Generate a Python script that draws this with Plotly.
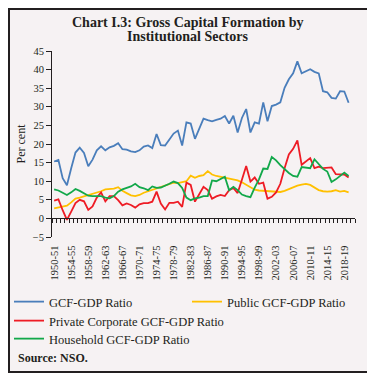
import plotly.graph_objects as go

years = [f"{y}-{str(y + 1)[-2:]}" for y in range(1950, 2021)]  # 71 slots, last one empty

gcf_gdp = [15.3, 15.7, 10.8, 8.9, 13.5, 17.7, 19.0, 17.6, 14.0, 15.8,
           18.3, 19.4, 18.3, 19.1, 19.5, 20.2, 18.6, 18.5, 18.0, 17.8,
           18.3, 19.3, 19.6, 18.9, 22.7, 19.7, 19.6, 21.3, 22.8, 23.6,
           19.6, 25.8, 25.5, 21.4, 23.9, 26.8, 26.4, 26.1, 26.5, 26.8,
           27.5, 25.5, 27.6, 23.1, 27.0, 29.4, 23.1, 25.8, 25.5, 31.2,
           26.1, 30.2, 30.6, 31.2, 35.1, 37.4, 39.0, 42.2, 39.0, 39.5,
           40.1, 39.4, 39.0, 34.2, 33.9, 32.4, 32.2, 34.2, 34.1, 31.1]

public_gcf = [2.7, 3.0, 3.2, 3.4, 4.3, 5.3, 5.6, 5.9, 6.2, 6.7,
              7.0, 7.3, 7.8, 7.9, 8.0, 8.4, 7.4, 6.8, 6.2, 6.0,
              6.3, 6.9, 7.3, 7.8, 8.0, 8.6, 8.8, 9.2, 9.6, 9.5,
              9.8, 10.0, 11.5, 10.9, 11.4, 11.6, 12.7, 11.8, 11.4, 11.2,
              11.0, 10.7, 10.5, 10.2, 9.7, 9.0, 8.4, 7.7, 7.5, 7.4,
              7.3, 7.3, 7.2, 7.1, 7.4, 7.9, 8.2, 8.8, 9.1, 9.3,
              9.0, 8.3, 7.6, 7.3, 7.2, 7.3, 7.6, 7.2, 7.4, 7.0]

private_corp = [4.8, 5.1, 2.2, -0.4, 1.8, 4.1, 5.0, 4.6, 2.3, 3.2,
                5.6, 7.0, 4.6, 6.0, 6.0, 4.9, 3.5, 4.0, 3.6, 2.9,
                3.8, 4.1, 4.1, 4.5, 7.2, 4.0, 2.4, 4.2, 4.2, 4.5,
                3.1, 9.6, 9.0, 4.5, 6.5, 8.5, 7.6, 5.3, 5.9, 6.3,
                6.0, 7.6, 8.2, 6.8, 10.4, 14.1, 9.9, 11.0, 9.3, 9.6,
                5.3, 5.8, 7.0, 9.3, 13.5, 17.2, 18.7, 21.0, 14.4, 15.3,
                16.2, 13.5, 13.9, 13.5, 13.6, 13.7, 11.9, 11.9, 11.8, 11.0]

household = [7.8, 7.5, 6.9, 6.3, 7.0, 7.9, 7.4, 6.7, 6.1, 6.0,
             6.0, 6.0, 5.6, 5.4, 6.0, 7.2, 7.8, 8.1, 8.6, 9.3,
             8.4, 8.1, 7.6, 8.6, 8.2, 8.3, 8.7, 9.3, 9.9, 9.5,
             8.2, 5.6, 4.9, 5.4, 5.6, 6.0, 6.0, 10.2, 10.0, 10.5,
             11.2, 7.6, 8.5, 7.6, 6.4, 6.0, 5.7, 8.3, 10.5, 13.4,
             13.3, 16.5, 15.6, 14.3, 13.2, 12.2, 11.4, 11.2, 13.8, 13.7,
             13.5, 15.9, 14.7, 13.3, 12.6, 9.8, 10.5, 11.3, 12.3, 11.4]

tick_labels = years[0:69:4]

series = [
    ("GCF-GDP Ratio", gcf_gdp, "#4A7EBB", "legend"),
    ("Public GCF-GDP Ratio", public_gcf, "#FFC000", "legend2"),
    ("Private Corporate GCF-GDP Ratio", private_corp, "#EE1C25", "legend3"),
    ("Household GCF-GDP Ratio", household, "#12A84A", "legend4"),
]

SERIF = "Liberation Serif"
INK = "#231F20"
W, H = 375, 377
OFF = 8  # page body margin: figure starts 8px into the window

# target positions are given in window pixels; convert to figure coordinates
L, R, T, B = 52 - OFF, 355 - OFF, 51 - OFF, 237 - OFF
def px(xw):
    return (xw - OFF - L) / (R - L)
def py(yw):
    return (B - (yw - OFF)) / (B - T)
def cx(xw):
    return (xw - OFF) / W
def cy(yw):
    return 1 - (yw - OFF) / H

fig = go.Figure()
n = len(gcf_gdp)
for name, vals, color, lg in series:
    fig.add_trace(go.Scatter(
        x=years[:n], y=vals, mode="lines", name=name,
        line=dict(color=color, width=1.8), legend=lg, showlegend=True,
    ))

legend_common = dict(font=dict(family=SERIF, size=12.5, color=INK),
                     bgcolor="rgba(0,0,0,0)", xanchor="left", yanchor="middle",
                     xref="container", yref="container")

ymin, ymax = -5, 45
fig.update_layout(
    width=W, height=H, autosize=False, showlegend=True,
    margin=dict(l=L, r=W - R, t=T, b=H - B, pad=0, autoexpand=False),
    paper_bgcolor="white",
    plot_bgcolor="rgba(0,0,0,0)",
    font=dict(family=SERIF, color=INK),
    xaxis=dict(
        type="category", categoryorder="array", categoryarray=years,
        range=[-0.5, len(years) - 0.5],
        anchor="free", position=(0 - ymin) / (ymax - ymin),
        tickmode="array", tickvals=years,
        ticktext=[y if y in tick_labels else "" for y in years],
        tickson="boundaries", ticks="outside", ticklen=4, tickcolor=INK,
        showline=True, linecolor=INK, linewidth=1,
        tickangle=-90, ticklabelstandoff=22,
        showgrid=False, zeroline=False, automargin=False,
        tickfont=dict(family=SERIF, size=10.5, color=INK),
    ),
    yaxis=dict(
        range=[ymin, ymax], dtick=5, tick0=0,
        ticks="outside", ticklen=5, tickcolor=INK,
        showline=True, linecolor=INK, linewidth=1,
        showgrid=False, zeroline=False, automargin=False,
        tickfont=dict(family=SERIF, size=10.5, color=INK),
    ),
    legend=dict(x=cx(9), y=cy(302), **legend_common),
    legend2=dict(x=cx(187), y=cy(302), **legend_common),
    legend3=dict(x=cx(9), y=cy(321), **legend_common),
    legend4=dict(x=cx(9), y=cy(339), **legend_common),
    shapes=[dict(type="rect", xref="paper", yref="paper",
                 x0=px(OFF + 1), x1=px(371), y0=py(372), y1=py(OFF + 1),
                 fillcolor="#F6F2F3", line=dict(color=INK, width=2),
                 layer="below")],
    annotations=[
        dict(text="<b>Chart I.3: Gross Capital Formation by</b>", x=px(188), y=py(22.5),
             xanchor="center", yanchor="middle",
             xref="paper", yref="paper", showarrow=False,
             font=dict(family=SERIF, size=14, color=INK)),
        dict(text="<b>Institutional Sectors</b>", x=px(188), y=py(36.5),
             xanchor="center", yanchor="middle",
             xref="paper", yref="paper", showarrow=False,
             font=dict(family=SERIF, size=14, color=INK)),
        dict(text="Per cent", x=px(20), y=py(143.5), xref="paper", yref="paper",
             xanchor="center", yanchor="middle",
             textangle=-90, showarrow=False,
             font=dict(family=SERIF, size=12, color=INK)),
        dict(text="<b>Source: NSO.</b>", x=px(16), y=py(358),
             xanchor="left", yanchor="middle",
             xref="paper", yref="paper", showarrow=False,
             font=dict(family=SERIF, size=12, color=INK)),
    ],
)

fig.write_html("out.html")
